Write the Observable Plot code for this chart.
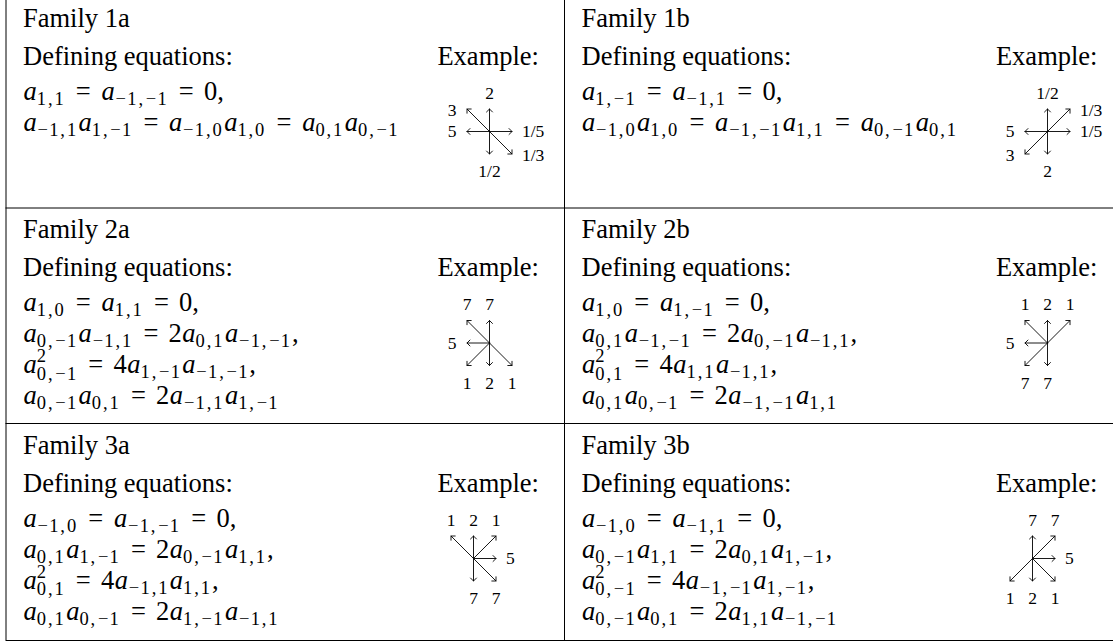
<!DOCTYPE html>
<html><head><meta charset="utf-8">
<script src="https://cdn.jsdelivr.net/npm/d3@7"></script>
<script src="https://cdn.jsdelivr.net/npm/@observablehq/plot@0.6"></script>
<style>html,body{margin:0;padding:0;background:#fff}#chart svg{display:block}#err{font:12px monospace;color:red;white-space:pre}</style>
</head><body><div id="chart"></div><div id="err"></div>
<script>
const errBox = document.getElementById("err");
window.onerror = (m, s, l, c, e) => { errBox.textContent += "ERR: " + m + " @" + l + ":" + c + "\n"; };
// ---------- data ----------
const families = ["Family 1a","Family 1b","Family 2a","Family 2b","Family 3a","Family 3b"];
const familyRow = [0,0,1,1,2,2];
const familyCol = [0,1,0,1,0,1];
const headingLabel = "Defining equations:";
const exampleLabel = "Example:";
const equations = [
  ["a_{1,1} = a_{-1,-1} = 0,", "a_{-1,1}a_{1,-1} = a_{-1,0}a_{1,0} = a_{0,1}a_{0,-1}"],
  ["a_{1,-1} = a_{-1,1} = 0,", "a_{-1,0}a_{1,0} = a_{-1,-1}a_{1,1} = a_{0,-1}a_{0,1}"],
  ["a_{1,0} = a_{1,1} = 0,", "a_{0,-1}a_{-1,1} = 2a_{0,1}a_{-1,-1},", "a^2_{0,-1} = 4a_{1,-1}a_{-1,-1},", "a_{0,-1}a_{0,1} = 2a_{-1,1}a_{1,-1}"],
  ["a_{1,0} = a_{1,-1} = 0,", "a_{0,1}a_{-1,-1} = 2a_{0,-1}a_{-1,1},", "a^2_{0,1} = 4a_{1,1}a_{-1,1},", "a_{0,1}a_{0,-1} = 2a_{-1,-1}a_{1,1}"],
  ["a_{-1,0} = a_{-1,-1} = 0,", "a_{0,1}a_{1,-1} = 2a_{0,-1}a_{1,1},", "a^2_{0,1} = 4a_{-1,1}a_{1,1},", "a_{0,1}a_{0,-1} = 2a_{1,-1}a_{-1,1}"],
  ["a_{-1,0} = a_{-1,1} = 0,", "a_{0,-1}a_{1,1} = 2a_{0,1}a_{1,-1},", "a^2_{0,-1} = 4a_{-1,-1}a_{1,-1},", "a_{0,-1}a_{0,1} = 2a_{1,1}a_{-1,-1}"]
];
// example step sets: [dx, dy (up = +1), weight label]
const exampleSteps = [
  [[-1,1,"3"],[0,1,"2"],[-1,0,"5"],[1,0,"1/5"],[1,-1,"1/3"],[0,-1,"1/2"]],
  [[0,1,"1/2"],[1,1,"1/3"],[-1,0,"5"],[1,0,"1/5"],[-1,-1,"3"],[0,-1,"2"]],
  [[-1,1,"7"],[0,1,"7"],[-1,0,"5"],[-1,-1,"1"],[0,-1,"2"],[1,-1,"1"]],
  [[-1,1,"1"],[0,1,"2"],[1,1,"1"],[-1,0,"5"],[-1,-1,"7"],[0,-1,"7"]],
  [[-1,1,"1"],[0,1,"2"],[1,1,"1"],[1,0,"5"],[0,-1,"7"],[1,-1,"7"]],
  [[0,1,"7"],[1,1,"7"],[1,0,"5"],[-1,-1,"1"],[0,-1,"2"],[1,-1,"1"]]
];

// ---------- layout (pixels) ----------
const W = 1113, H = 642;
const colLeft = [5.5, 564], colRight = 1122.5;
const rowTop = [-4, 207.5, 423], rowBottom = 640;
const FS = 26.5, LABEL_FS = 17.5;
const padLeft = 17, exampleRight = 533;
const familyBase = 30, headBase = 68, eqBase = 103, eqStep = 31;
const diagCenterY = 135, diagCenterX = [483.5, 483, 483.5, 483, 467.5, 468];
const STEP = 22.5;
const X = (c, px) => colLeft[c] + px;
const Y = (r, py) => rowTop[r] + py;

try {
const titles = families.map((f,i) => ({text: f, x: X(familyCol[i], padLeft), y: Y(familyRow[i], familyBase)}));
const heads = families.map((f,i) => ({text: headingLabel, x: X(familyCol[i], padLeft), y: Y(familyRow[i], headBase)}));
const examples = families.map((f,i) => ({text: exampleLabel, x: X(familyCol[i], exampleRight), y: Y(familyRow[i], headBase)}));
const eqLines = equations.flatMap((lines,i) => lines.map((t,k) => ({text: t, x: X(familyCol[i], padLeft), y: Y(familyRow[i], eqBase + k*eqStep)})));

const arrows = [], labels = [];
exampleSteps.forEach((steps, i) => {
  const c = familyCol[i], r = familyRow[i];
  const cx = diagCenterX[i], cy = diagCenterY;
  const sideways = r === 0;
  for (const [dx, dy, lab] of steps) {
    const tx = cx + dx*STEP, ty = cy - dy*STEP;
    arrows.push({x1: X(c, cx), y1: Y(r, cy), x2: X(c, tx), y2: Y(r, ty)});
    let lx, ly, anchor = "middle";
    if (dx !== 0 && (dy === 0 || sideways)) {
      ly = ty + (dy === 0 ? 0 : 1.5);
      if (dx < 0) lx = tx - 15; else { lx = tx + 10; anchor = "start"; }
    } else { lx = tx; ly = ty + (dy > 0 ? -16 : 17.5); }
    labels.push({text: lab, x: X(c, lx), y: Y(r, ly), anchor});
  }
});

const vlines = colLeft.map(x => ({x, y1: rowTop[0], y2: rowBottom}));
const hlines = rowTop.slice(1).concat([rowBottom]).map(y => ({y, x1: colLeft[0], x2: colRight}));

const serif = "Liberation Serif, Times New Roman, serif";
const plot = Plot.plot({
  width: W, height: H,
  marginTop: 0, marginRight: 0, marginBottom: 0, marginLeft: 0,
  x: {type: "linear", domain: [0, W], range: [0, W], axis: null},
  y: {type: "linear", domain: [0, H], range: [0, H], axis: null},
  style: {fontFamily: serif, background: "#fff", overflow: "hidden"},
  marks: [
    Plot.ruleX(vlines, {x: "x", y1: "y1", y2: "y2", stroke: "#000", strokeWidth: 1}),
    Plot.ruleY(hlines, {y: "y", x1: "x1", x2: "x2", stroke: "#000", strokeWidth: 1}),
    Plot.text(titles, {x: "x", y: "y", text: "text", textAnchor: "start", lineAnchor: "bottom", fontSize: FS}),
    Plot.text(heads, {x: "x", y: "y", text: "text", textAnchor: "start", lineAnchor: "bottom", fontSize: FS}),
    Plot.text(examples, {x: "x", y: "y", text: "text", textAnchor: "end", lineAnchor: "bottom", fontSize: FS}),
    Plot.text(eqLines, {x: "x", y: "y", text: "text", textAnchor: "start", lineAnchor: "bottom", fontSize: FS}),
    Plot.arrow(arrows, {x1: "x1", y1: "y1", x2: "x2", y2: "y2", stroke: "#000", strokeWidth: 0.9, headLength: 7, headAngle: 90}),
    Plot.text(labels.filter(d => d.anchor === "middle"), {x: "x", y: "y", text: "text", textAnchor: "middle", fontSize: LABEL_FS}),
    Plot.text(labels.filter(d => d.anchor === "start"), {x: "x", y: "y", text: "text", textAnchor: "start", fontSize: LABEL_FS})
  ]
});
document.getElementById("chart").appendChild(plot);

// ---------- math typesetting of the equation strings ----------
const NS = "http://www.w3.org/2000/svg";
function parseMath(s) {
  const parts = []; let i = 0;
  while (i < s.length) {
    const ch = s[i];
    if (ch === "^") {
      const sup = s[i+1]; i += 2; let sub = null;
      if (s[i] === "_") { const j = s.indexOf("}", i); sub = s.slice(i+2, j); i = j+1; }
      parts.push({type: "supsub", sup, sub});
    } else if (ch === "_") {
      const j = s.indexOf("}", i); parts.push({type: "sub", text: s.slice(i+2, j)}); i = j+1;
    } else {
      let j = i; while (j < s.length && s[j] !== "_" && s[j] !== "^") j++;
      parts.push({type: "run", text: s.slice(i, j)}); i = j;
    }
  }
  return parts;
}
function typeset(el, s) {
  const ss = FS*0.7, subShift = 5, supShift = -11, subShift2 = 6.5;
  const ls = 1.9, minusPadL = 0.8, minusPadR = 1.2, eqPad = 3.6;
  while (el.firstChild) el.removeChild(el.firstChild);
  el.setAttribute("style", "white-space:pre");
  let shift = 0, pendingDx = 0;
  const add = (str, o = {}) => {
    const dy = o.dy || 0;
    const t = document.createElementNS(NS, "tspan");
    t.textContent = str;
    if (dy !== shift) { t.setAttribute("dy", dy - shift); shift = dy; }
    const totalDx = (o.dx || 0) + pendingDx; pendingDx = 0;
    if (totalDx) t.setAttribute("dx", totalDx);
    if (o.size) t.setAttribute("font-size", o.size);
    t.setAttribute("letter-spacing", o.ls || 0);
    t.setAttribute("font-style", o.italic ? "italic" : "normal");
    el.appendChild(t);
  };
  // script-size index list: wider spacing, padded minus signs (like cmr7/cmsy7)
  const addScript = (txt, dy, firstDx = 0) => {
    const pieces = txt.match(/-|[^-]+/g) || [];
    pieces.forEach((p, k) => {
      const dx0 = k === 0 ? firstDx : 0;
      if (p === "-") { add("\u2212", {dy, size: ss, dx: dx0 + minusPadL}); pendingDx = minusPadR; }
      else add(p, {dy, size: ss, ls, dx: dx0});
    });
  };
  for (const p of parseMath(s)) {
    if (p.type === "run") {
      const segs = p.text.match(/[a-z]+|=|[^a-z=]+/g) || [];
      for (const g of segs) {
        if (/^[a-z]+$/.test(g)) add(g, {italic: true, dx: 0.5});
        else if (g === "=") { add("=", {dx: eqPad}); pendingDx = eqPad; }
        else add(g);
      }
    } else if (p.type === "sub") {
      addScript(p.text, subShift);
    } else {
      add(p.sup, {dy: supShift, size: ss, ls});
      if (p.sub) addScript(p.sub, subShift2, -(ss*0.5 + ls));
    }
  }
}
const eqSet = new Set(eqLines.map(d => d.text));
plot.querySelectorAll("text").forEach(el => {
  const s = el.textContent;
  if (eqSet.has(s)) typeset(el, s);
});
} catch (e) { errBox.textContent += "CAUGHT: " + e.message + "\n" + e.stack; }
</script>
</body></html>
